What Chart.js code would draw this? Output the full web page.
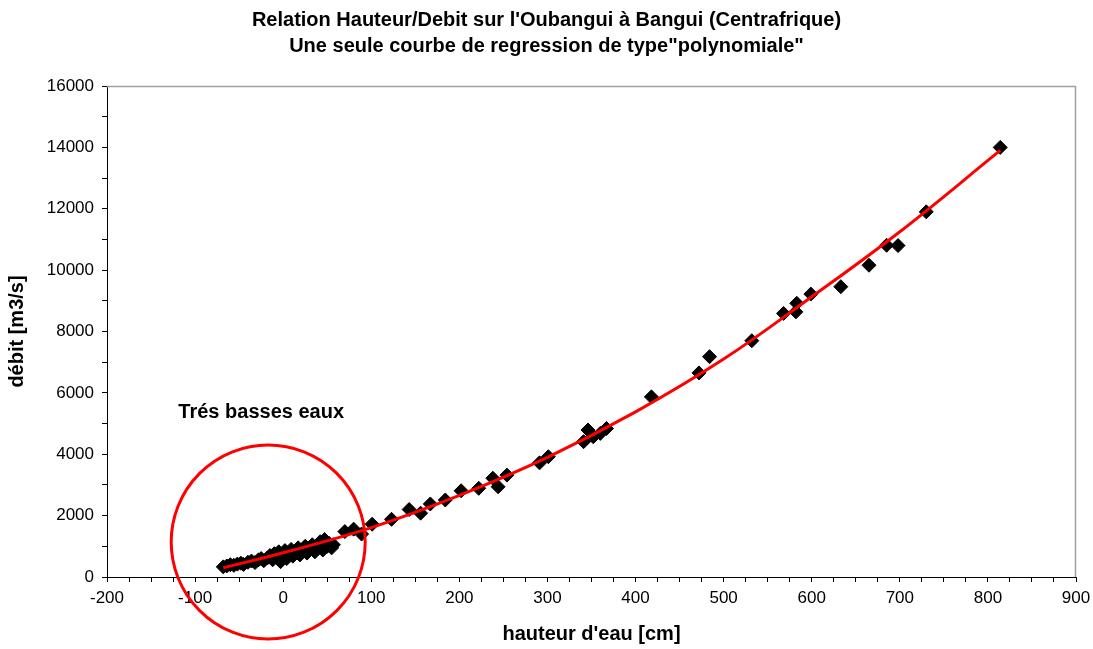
<!DOCTYPE html>
<html>
<head>
<meta charset="utf-8">
<script src="https://cdn.jsdelivr.net/npm/chart.js@4/dist/chart.umd.min.js"></script>
<style>
  body { margin: 0; background: #fff; }
  #wrap { width: 1093px; height: 649px; }
</style>
</head>
<body>
<div id="wrap"><canvas id="chart"></canvas></div>
<script>
const hauteurs = [
  -68, -64, -60, -56, -52, -48, -45, -40, -36, -32, -28, -25, -22, -18, -15,
  -12, -10, -7, -5, -3, 0, 2, 4, 6, 9, 11, 14, 17, 19, 22, 25, 27, 30, 33, 36,
  39, 42, 45, 47, 50, 52, 55, 57,
  70, 80, 89, 101, 123, 143, 156, 167, 184, 202, 222, 238, 244, 254, 291, 301,
  341, 346, 352, 360, 367, 418, 472, 484, 532, 568, 582, 583, 599, 633, 665,
  685, 698, 730, 814
];
const debits = [
  330, 360, 400, 380, 420, 450, 410, 480, 520, 470, 560, 600, 530, 620, 700,
  560, 760, 650, 820, 500, 700, 860, 600, 780, 900, 680, 820, 950, 720, 880,
  1000, 780, 900, 1050, 820, 960, 1150, 880, 1220, 1000, 1100, 950, 1050,
  1480, 1560, 1400, 1720, 1880, 2200, 2080, 2380, 2510, 2810, 2890, 3220, 2940,
  3320, 3720, 3920, 4410, 4790, 4570, 4680, 4840, 5870, 6650, 7180, 7700, 8590,
  8640, 8920, 9220, 9460, 10160, 10810, 10800, 11900, 14000
];

// courbe de regression
const courbeX = [-68, 0, 100, 200, 300, 400, 500, 600, 700, 814];
const courbeY = [300, 790, 1610, 2660, 3900, 5380, 7100, 9130, 11250, 13900];

const titre = [
  "Relation Hauteur/Debit sur l'Oubangui à Bangui (Centrafrique)",
  'Une seule courbe de regression de type"polynomiale"'
];
const texteZone = "Trés basses eaux";
const centreZone = { x: -17, y: 1140 }; // centre du cercle rouge
const posTexte = { x: -119, y: 5370 };

const police = "'Liberation Sans', Arial, sans-serif";

const points = hauteurs.map((h, i) => ({ x: h, y: debits[i] }));
const courbe = courbeX.map((h, i) => ({ x: h, y: courbeY[i] }));

// cadre gris + cercle + texte
const decor = {
  id: "decor",
  beforeDatasetsDraw(chart) {
    const { ctx, chartArea: a } = chart;
    ctx.save();
    ctx.strokeStyle = "#a0a0a0";
    ctx.lineWidth = 1.5;
    ctx.beginPath();
    ctx.moveTo(a.left, a.top + 0.5);
    ctx.lineTo(a.right - 0.5, a.top + 0.5);
    ctx.lineTo(a.right - 0.5, a.bottom);
    ctx.stroke();
    ctx.restore();
  },
  afterDatasetsDraw(chart) {
    const { ctx, scales } = chart;
    ctx.save();
    ctx.strokeStyle = "#ff0000";
    ctx.lineWidth = 3;
    ctx.beginPath();
    ctx.arc(scales.x.getPixelForValue(centreZone.x), scales.y.getPixelForValue(centreZone.y), 97, 0, Math.PI * 2);
    ctx.stroke();
    ctx.fillStyle = "#000";
    ctx.font = "bold 20px " + police;
    ctx.textBaseline = "middle";
    ctx.fillText(texteZone, scales.x.getPixelForValue(posTexte.x), scales.y.getPixelForValue(posTexte.y));
    ctx.restore();
  }
};

new Chart(document.getElementById("chart"), {
  type: "scatter",
  data: {
    datasets: [
      {
        data: courbe,
        showLine: true,
        borderColor: "#ff0000",
        borderWidth: 3,
        pointRadius: 0,
        tension: 0.4,
        order: 0
      },
      {
        data: points,
        pointStyle: "rectRot",
        pointRadius: 7,
        backgroundColor: "#000",
        borderColor: "#000",
        borderWidth: 1,
        order: 1
      }
    ]
  },
  options: {
    responsive: true,
    maintainAspectRatio: false,
    animation: false,
    devicePixelRatio: 1,
    layout: { padding: 0 },
    plugins: {
      legend: { display: false },
      tooltip: { enabled: false },
      title: {
        display: true,
        text: titre,
        color: "#000",
        font: { family: police, size: 20, weight: "bold", lineHeight: 1.3 },
        padding: { top: 7, bottom: 27 }
      }
    },
    scales: {
      x: {
        type: "linear",
        min: -200,
        max: 900,
        afterFit: (s) => { s.height = 72; s.paddingRight = 17; s.paddingLeft = 0; },
        grid: { drawOnChartArea: false, drawTicks: true, tickLength: 5, color: "#000" },
        border: { display: true, color: "#000", width: 1 },
        ticks: {
          stepSize: 25,
          autoSkip: false,
          maxRotation: 0,
          padding: 6,
          color: "#000",
          font: { family: police, size: 17 },
          callback: (v) => (v % 100 === 0 ? String(v) : "")
        },
        title: {
          display: true,
          text: "hauteur d'eau [cm]",
          color: "#000",
          font: { family: police, size: 20, weight: "bold" },
          padding: { top: 0, bottom: 3 }
        }
      },
      y: {
        min: 0,
        max: 16000,
        afterFit: (s) => { s.width = 107; },
        grid: { drawOnChartArea: false, drawTicks: true, tickLength: 5, color: "#000" },
        border: { display: true, color: "#000", width: 1 },
        ticks: {
          stepSize: 1000,
          autoSkip: false,
          padding: 8,
          color: "#000",
          font: { family: police, size: 17 },
          callback: (v) => (v % 2000 === 0 ? String(v) : "")
        },
        title: {
          display: true,
          text: "débit [m3/s]",
          color: "#000",
          font: { family: police, size: 20, weight: "bold" },
          padding: { top: 5, bottom: 0 }
        }
      }
    }
  },
  plugins: [decor]
});
</script>
</body>
</html>
